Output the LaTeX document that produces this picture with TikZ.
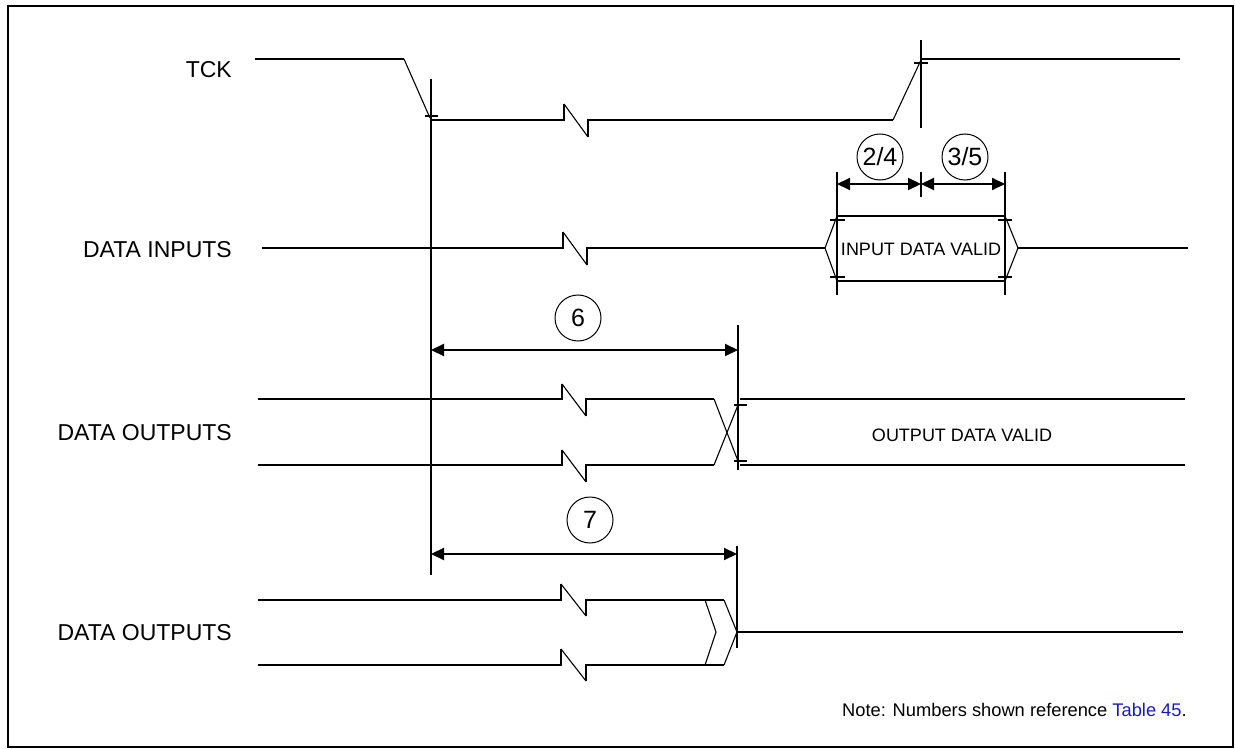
\documentclass[tikz,border=0pt]{standalone}
\usepackage{fontspec}
\setmainfont{Liberation Sans}
\usetikzlibrary{arrows.meta}
\definecolor{linkblue}{RGB}{25,25,190}
\begin{document}
\begin{tikzpicture}[x=1pt,y=-1pt,
  sig/.style={line width=2pt},
  slope/.style={line width=1.1pt},
  tickmark/.style={line width=2pt},
  refline/.style={line width=2pt},
  dim/.style={line width=2pt,{Triangle[length=13pt,width=12pt]}-{Triangle[length=13pt,width=12pt]}},
  num/.style={circle,draw,line width=1pt,minimum size=46pt,inner sep=0pt,font=\fontsize{25}{27}\selectfont},
  lab/.style={anchor=east,font=\fontsize{23}{26}\selectfont,inner sep=0pt},
  valid/.style={font=\fontsize{18}{20}\selectfont,inner sep=0pt}]
\useasboundingbox (0,0) rectangle (1235,749);
\draw[line width=2pt] (8,6) rectangle (1233,747);

% ---------- labels
\node[lab] (ltck) at (232,70) {TCK};
\node[lab] (lin) at (232,250) {DATA INPUTS};
\node[lab] (lout1) at (232,433) {DATA OUTPUTS};
\node[lab] (lout2) at (232,633) {DATA OUTPUTS};

% ---------- TCK
\draw[sig] (255,59) -- (404,59);
\draw[slope] (404,59) -- (430,118);
\draw[sig] (430,120) -- (564,120) -- (564,104);
\draw[slope] (564,104) -- (588,137);
\draw[sig] (588,137) -- (588,120) -- (893,120);
\draw[slope] (893,120) -- (921,60);
\draw[sig] (921,59) -- (1180,59);
\draw[refline] (431,79) -- (431,575);
\draw[tickmark] (425,116) -- (438,116);
\draw[refline] (921,40) -- (921,128);
\draw[tickmark] (914,63) -- (928,63);

% ---------- DATA INPUTS
\draw[sig] (262,248) -- (563,248) -- (563,232);
\draw[slope] (563,232) -- (587,265);
\draw[sig] (587,265) -- (587,248) -- (825,248);
\draw[slope] (837,216) -- (825,248) -- (837,281);
\draw[sig] (837,216) -- (1005,216);
\draw[sig] (837,281) -- (1005,281);
\draw[slope] (1005,216) -- (1018,248) -- (1005,281);
\draw[sig] (1018,248) -- (1188,248);
\node[valid] (idv) at (921,249) {INPUT DATA VALID};
\draw[refline] (837,172) -- (837,295);
\draw[refline] (1005,172) -- (1005,295);
\draw[refline] (921,172) -- (921,197);
\draw[tickmark] (830,220) -- (845,220);
\draw[tickmark] (830,277) -- (845,277);
\draw[tickmark] (998,220) -- (1012,220);
\draw[tickmark] (998,277) -- (1012,277);
\draw[dim] (837,184) -- (921,184);
\draw[dim] (921,184) -- (1005,184);
\node[num] (n24) at (880,157) {2/4};
\node[num] (n35) at (965,157) {3/5};

% ---------- DATA OUTPUTS (1)
\node[num] (n6) at (578,318) {6};
\draw[dim] (431,350) -- (738,350);
\draw[refline] (738,325) -- (738,470);
\foreach \yy in {399,465}{
  \draw[sig] (258,\yy) -- (562,\yy) -- (562,\yy-15);
  \draw[slope] (562,\yy-15) -- (586,\yy+17);
  \draw[sig] (586,\yy+17) -- (586,\yy) -- (714,\yy);
  \draw[sig] (740,\yy) -- (1185,\yy);
}
\draw[slope] (714,399) -- (738,461);
\draw[slope] (714,465) -- (738,405);
\draw[tickmark] (734,405) -- (747,405);
\draw[tickmark] (734,461) -- (747,461);
\node[valid] (odv) at (962,435) {OUTPUT DATA VALID};

% ---------- DATA OUTPUTS (2)
\node[num] (n7) at (590,520) {7};
\draw[dim] (431,554) -- (737,554);
\draw[refline] (737,546) -- (737,648);
\foreach \yy in {600,665}{
  \draw[sig] (258,\yy) -- (561,\yy) -- (561,\yy-16);
  \draw[slope] (561,\yy-16) -- (586,\yy+16);
  \draw[sig] (586,\yy+16) -- (586,\yy) -- (724,\yy);
}
\draw[slope] (705,600) -- (716,632) -- (705,665);
\draw[slope] (724,600) -- (737,632) -- (724,665);
\draw[sig] (737,632) -- (1183,632);

% ---------- note
\node[anchor=west,inner sep=0pt,font=\fontsize{18.3}{20}\selectfont] (note) at (842,710)
  {Note: Numbers shown reference \textcolor{linkblue}{Table 45}.};
\end{tikzpicture}
\end{document}
